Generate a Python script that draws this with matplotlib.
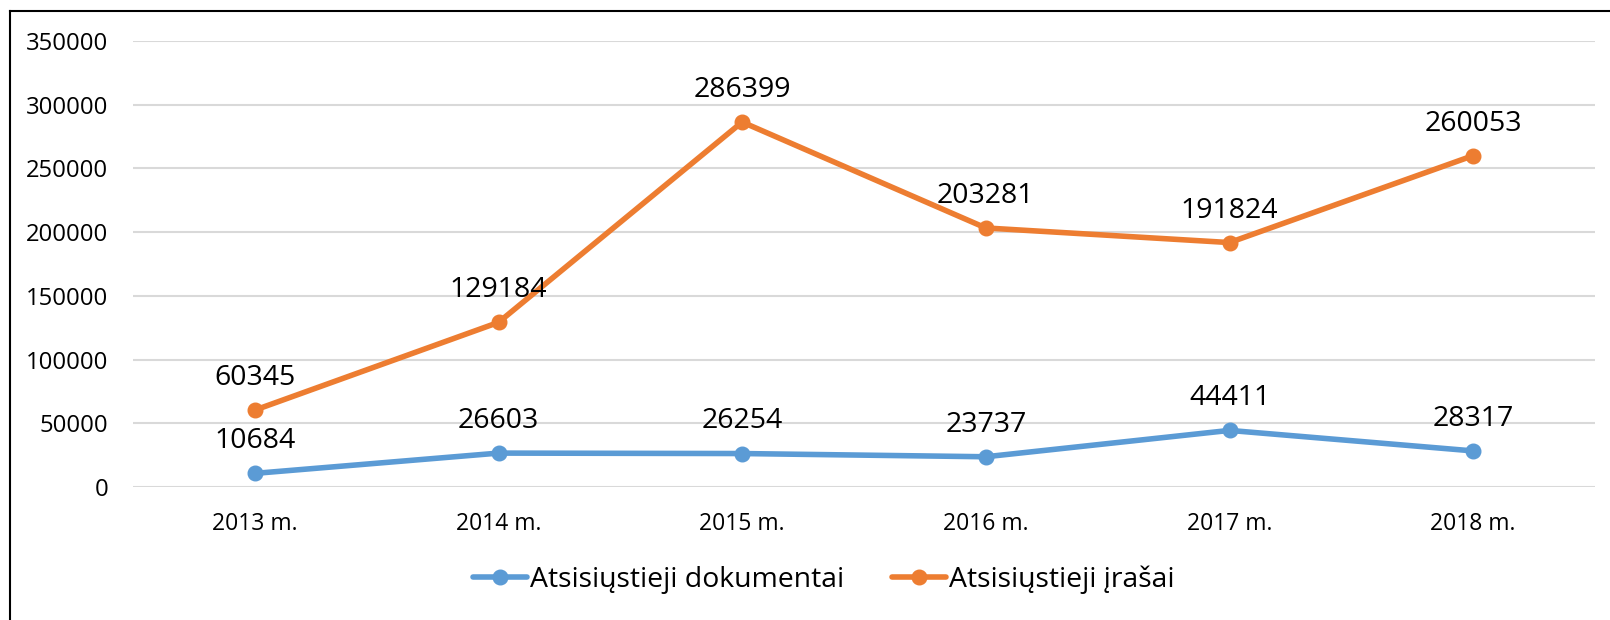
import matplotlib.pyplot as plt
from matplotlib.lines import Line2D

plt.rcParams['font.family'] = ['Open Sans', 'DejaVu Sans']

years = ['2013 m.', '2014 m.', '2015 m.', '2016 m.', '2017 m.', '2018 m.']
dokumentai = [10684, 26603, 26254, 23737, 44411, 28317]
irasai = [60345, 129184, 286399, 203281, 191824, 260053]
labels = ['Atsisiųstieji dokumentai', 'Atsisiųstieji įrašai']

blue = '#5B9BD5'
orange = '#ED7D31'

fig = plt.figure(figsize=(16.1, 6.2), dpi=100)
ax = fig.add_axes([133/1610, 1-487/620, (1595-133)/1610, (487-41)/620])

x = range(len(years))
for vals, c, lab in [(dokumentai, blue, labels[0]), (irasai, orange, labels[1])]:
    ax.plot(x, vals, color=c, lw=4, marker='o', ms=10.5, label=lab,
            solid_capstyle='round', zorder=3)
    for xi, v in zip(x, vals):
        ax.annotate(str(v), (xi, v), xytext=(0, 13), textcoords='offset points',
                    ha='center', va='bottom', fontsize=20.5, color='black')

ax.set_xlim(-0.5, len(years) - 0.5)
ax.set_ylim(0, 350000)
ax.set_yticks(range(0, 350001, 50000))
ax.set_xticks(list(x))
ax.set_xticklabels(years)
ax.grid(axis='y', color='#D9D9D9', lw=1.5)
ax.set_axisbelow(True)
for s in ax.spines.values():
    s.set_visible(False)
ax.tick_params(axis='y', length=0, pad=18, labelsize=17.2)
ax.tick_params(axis='x', length=0, pad=18, labelsize=16.5)

fig.legend(loc='center', bbox_to_anchor=(824/1610, 1-580/620), ncol=2,
           frameon=False, fontsize=20.4, handlelength=1.9, handletextpad=0.1,
           columnspacing=1.7)

# outer chart border (left and top edges visible)
fig.add_artist(Line2D([10/1610, 10/1610], [0, 1-11/620], color='black', lw=1.5,
                      transform=fig.transFigure))
fig.add_artist(Line2D([10/1610, 1], [1-11/620, 1-11/620], color='black', lw=1.5,
                      transform=fig.transFigure))

fig.savefig('out.png', dpi=100)
